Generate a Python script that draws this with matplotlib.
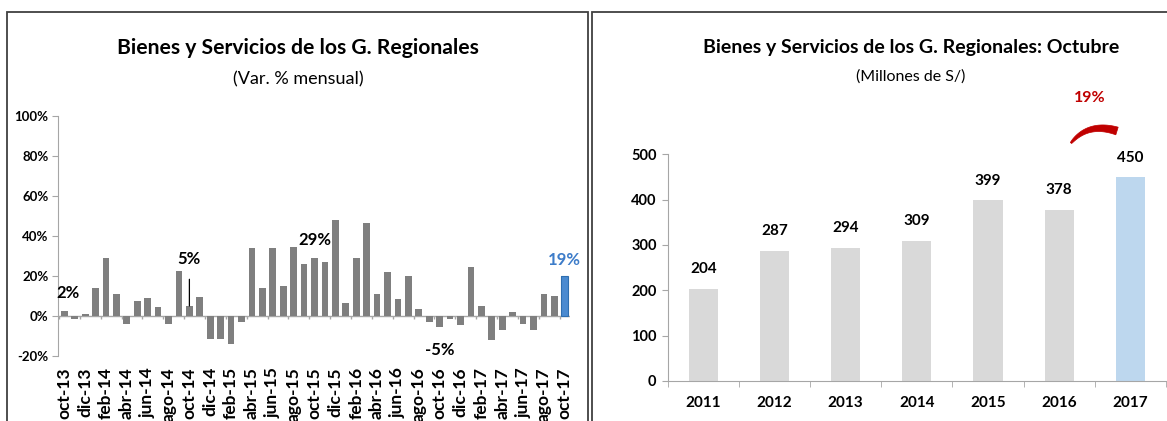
import numpy as np
import matplotlib.pyplot as plt
from matplotlib.patches import Rectangle, Polygon

plt.rcParams['font.family'] = ['Lato', 'DejaVu Sans']

# monthly variation, oct-13 .. oct-17
meses = ['ene', 'feb', 'mar', 'abr', 'may', 'jun', 'jul', 'ago', 'sep', 'oct', 'nov', 'dic']
labels = []
for k in range(49):
    m = (9 + k) % 12
    y = 13 + (9 + k) // 12
    labels.append(f"{meses[m]}-{y}")

var_pct = [2.3, -1.3, 1.0, 14.0, 29.0, 11.2, -4.0, 7.5, 9.0, 4.5, -4.0, 22.5,
           5.0, 9.7, -11.7, -11.7, -14.0, -2.8, 34.0, 14.0, 34.0, 15.0, 34.6,
           26.0, 29.0, 27.0, 48.0, 6.3, 28.8, 46.5, 10.8, 22.0, 8.7, 20.0,
           3.3, -3.0, -5.3, -1.7, -4.7, 24.3, 4.8, -12.0, -6.8, 1.8, -3.8,
           -6.8, 10.8, 10.0, 19.8]

# annotated bars: index, text, offset (pt)
notes = [(0, '2%', (3, 13)), (24, '29%', (0, 13)), (36, '-5%', (0, -17))]

years = ['2011', '2012', '2013', '2014', '2015', '2016', '2017']
octubre = [204, 287, 294, 309, 399, 378, 450]

W, H = 1167, 421
fig = plt.figure(figsize=(W / 100, H / 100), dpi=100)

# panel frames
fig.patches.append(Rectangle((7 / W, -0.1), (588 - 7) / W, 1.1 - 12 / H,
                             transform=fig.transFigure, fill=False, lw=1.3, ec='#404040'))
fig.patches.append(Rectangle((592 / W, -0.1), 0.5, 1.1 - 12 / H,
                             transform=fig.transFigure, fill=False, lw=1.3, ec='#404040'))

axis_col = '#a6a6a6'

# ---------- left chart ----------
ax = fig.add_axes([58 / W, 1 - 356 / H, (570 - 58) / W, (356 - 116) / H])
x = np.arange(len(var_pct))
cols = ['#7f7f7f'] * (len(var_pct) - 1) + ['#4a8ad0']
ax.bar(x, var_pct, width=0.65, color=cols, zorder=2)
ax.bar(x[-1], var_pct[-1], width=0.65, color='none', edgecolor='#2e6eb0', lw=0.8, zorder=3)
ax.set_ylim(-20, 100)
ax.set_xlim(-0.6, len(var_pct) - 0.5)
ax.set_yticks(np.arange(-20, 101, 20))
ax.set_yticklabels([f"{v}%" for v in range(-20, 101, 20)], fontsize=9.5, fontweight='bold')
ax.axhline(0, color=axis_col, lw=1, zorder=1)
ax.vlines(np.arange(-0.5, len(var_pct), 2), -1.5, 0, color=axis_col, lw=1)
ax.set_xticks(x[::2])
ax.set_xticklabels(labels[::2], rotation=90, fontsize=12.5, fontweight='bold')
ax.tick_params(axis='x', length=0, pad=8)
ax.tick_params(axis='y', length=4, color=axis_col, pad=3)
for s in ['top', 'right', 'bottom']:
    ax.spines[s].set_visible(False)
ax.spines['left'].set_color(axis_col)

for i, t, off in notes:
    ax.annotate(t, (x[i], var_pct[i]), xytext=off, textcoords='offset points',
                ha='center', va='center', fontsize=12, fontweight='bold')
ax.annotate('5%', (x[12], var_pct[12]), xytext=(0, 34), textcoords='offset points',
            ha='center', va='center', fontsize=12, fontweight='bold',
            arrowprops=dict(arrowstyle='-', color='black', lw=0.9, shrinkA=7, shrinkB=0))
ax.annotate('19%', (x[-1], var_pct[-1]), xytext=(0, 12), textcoords='offset points',
            ha='center', va='center', fontsize=12, fontweight='bold', color='#3d7cc9')

fig.text(298 / W, 1 - 48 / H, 'Bienes y Servicios de los G. Regionales',
         ha='center', va='center', fontsize=15.2, fontweight='bold')
fig.text(298 / W, 1 - 79 / H, '(Var. % mensual)', ha='center', va='center', fontsize=13)

# ---------- right chart ----------
ax2 = fig.add_axes([667.7 / W, 1 - 381 / H, (1166 - 667.7) / W, (381 - 154.3) / H])
xc = np.arange(len(years))
cols2 = ['#d9d9d9'] * (len(years) - 1) + ['#bdd7ee']
ax2.bar(xc, octubre, width=0.41, color=cols2, zorder=2)
ax2.set_ylim(0, 500)
ax2.set_xlim(-0.5, len(years) - 0.5)
ax2.set_yticks(range(0, 501, 100))
ax2.set_yticklabels([str(v) for v in range(0, 501, 100)], fontsize=10.5, fontweight='bold')
ax2.set_xticks(xc)
ax2.set_xticklabels(years, fontsize=11, fontweight='bold')
ax2.set_xticks(np.arange(-0.5, len(years), 1), minor=True)
ax2.tick_params(axis='x', which='major', length=0, pad=11)
ax2.tick_params(axis='x', which='minor', length=4, color=axis_col)
ax2.tick_params(axis='y', length=4, color=axis_col, pad=4)
for s in ['top', 'right']:
    ax2.spines[s].set_visible(False)
ax2.spines['left'].set_color(axis_col)
ax2.spines['bottom'].set_color(axis_col)
for xi, v in zip(xc, octubre):
    ax2.annotate(str(v), (xi, v), xytext=(0, 14), textcoords='offset points',
                 ha='center', va='center', fontsize=11, fontweight='bold')

fig.text(911 / W, 1 - 47 / H, 'Bienes y Servicios de los G. Regionales: Octubre',
         ha='center', va='center', fontsize=14, fontweight='bold')
fig.text(911 / W, 1 - 77 / H, '(Millones de S/)', ha='center', va='center', fontsize=11.5)
fig.text(1090 / W, 1 - 98 / H, '19%', ha='center', va='center', fontsize=11.5,
         fontweight='bold', color='#c00000')

# red growth arc (tapered)
p0, p1, p2 = np.array([1071, 143]), np.array([1088, 122]), np.array([1117, 131])
t = np.linspace(0, 1, 40)[:, None]
pts = (1 - t) ** 2 * p0 + 2 * (1 - t) * t * p1 + t ** 2 * p2
d = 2 * (1 - t) * (p1 - p0) + 2 * t * (p2 - p1)
nrm = np.column_stack([-d[:, 1], d[:, 0]]) / np.linalg.norm(d, axis=1)[:, None]
half = (0.8 + 3.2 * t ** 0.7)
up = pts + nrm * half
lo = pts - nrm * half
poly = np.vstack([up, lo[::-1]])
poly_fig = np.column_stack([poly[:, 0] / W, 1 - poly[:, 1] / H])
fig.patches.append(Polygon(poly_fig, closed=True, transform=fig.transFigure,
                           fc='#c00000', ec='#c00000', lw=0.5))

fig.savefig('out.png', dpi=100)
